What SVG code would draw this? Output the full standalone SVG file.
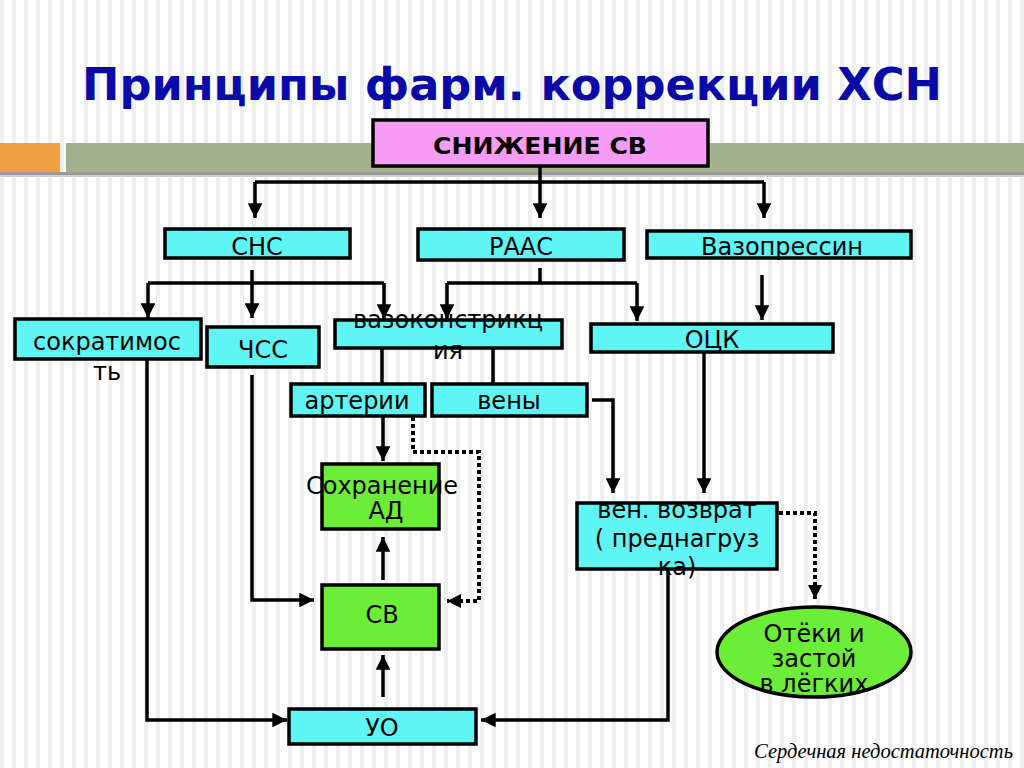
<svg xmlns="http://www.w3.org/2000/svg" width="1024" height="768" viewBox="0 0 1024 768">
<defs>
<pattern id="stripes" x="0" y="0" width="12" height="768" patternUnits="userSpaceOnUse">
<rect width="12" height="768" fill="#ffffff"/>
<rect x="0" width="4" height="768" fill="#efefef"/>
</pattern>
<marker id="arr" viewBox="0 0 10 10" refX="10" refY="5" markerWidth="4.2" markerHeight="4.2" orient="auto">
<path d="M0,0 L10,5 L0,10 z" fill="#000"/>
</marker>
<marker id="arrd" viewBox="0 0 10 10" refX="10" refY="5" markerWidth="3.5" markerHeight="3.5" orient="auto">
<path d="M0,0 L10,5 L0,10 z" fill="#000"/>
</marker>
</defs>
<style>
.box{stroke:#000;stroke-width:3.5}
.cy{fill:#5ff5f5}
.gr{fill:#6cee38}
.t{font-family:"DejaVu Sans",Verdana,sans-serif;font-size:24px;fill:#000;text-anchor:middle}
.c{fill:none;stroke:#000;stroke-width:3.5}
.a{marker-end:url(#arr)}
.d{fill:none;stroke:#000;stroke-width:4;stroke-dasharray:4 3;marker-end:url(#arrd)}
</style>
<rect width="1024" height="768" fill="url(#stripes)"/>
<rect x="0" y="143" width="60" height="29" fill="#f0a040"/>
<rect x="66" y="143" width="958" height="29" fill="#a2b28f"/>
<rect x="0" y="172" width="1024" height="3" fill="#9a9a9a"/>
<rect x="0" y="175" width="1024" height="2" fill="#d0d0d0"/>
<text x="512" y="100" font-family="'DejaVu Sans',sans-serif" font-weight="bold" font-size="44" fill="#0a0aa8" text-anchor="middle" textLength="860" lengthAdjust="spacingAndGlyphs">Принципы фарм. коррекции ХСН</text>

<g id="connectors">
<path class="c a" d="M540,167 V218"/>
<path class="c" d="M255,182 H764"/>
<path class="c a" d="M255,182 V218"/>
<path class="c a" d="M764,182 V218"/>
<path class="c" d="M252,270 V283 M148,283 H384"/>
<path class="c a" d="M148,283 V318"/>
<path class="c a" d="M252,283 V318"/>
<path class="c a" d="M384,283 V319"/>
<path class="c" d="M540,268 V283 M447,283 H637"/>
<path class="c a" d="M447,283 V319"/>
<path class="c a" d="M637,283 V321"/>
<path class="c a" d="M762,275 V320"/>
<path class="c" d="M382,348 V383 M493,348 V383"/>
<path class="c a" d="M383,417 V461"/>
<path class="d" d="M413,417 V452 H479 V601 H447"/>
<path class="c a" d="M383,580 V537"/>
<path class="c a" d="M383,697 V655"/>
<path class="c a" d="M252,375 V600 H314"/>
<path class="c a" d="M147,357 V720 H287"/>
<path class="c a" d="M592,400 H613 V493"/>
<path class="c a" d="M704,353 V493"/>
<path class="d" d="M779,513 H815 V599"/>
<path class="c a" d="M668,570 V720 H481"/>
</g>

<g id="n-snizh">
<rect x="373" y="120" width="335" height="46" fill="#f79bf4" class="box"/>
<text x="540" y="154" font-family="'DejaVu Sans Condensed','DejaVu Sans',sans-serif" font-weight="bold" font-size="23" text-anchor="middle" textLength="214" lengthAdjust="spacingAndGlyphs">СНИЖЕНИЕ СВ</text>
</g>
<g id="n-sns"><rect x="165" y="229" width="185" height="29" class="box cy"/><text class="t" x="257" y="255">СНС</text></g>
<g id="n-raas"><rect x="418" y="229" width="206" height="31" class="box cy"/><text class="t" x="521" y="255">РААС</text></g>
<g id="n-vazopr"><rect x="647" y="231" width="264" height="27" class="box cy"/><text class="t" x="782" y="255">Вазопрессин</text></g>
<g id="n-sokr"><rect x="15" y="319" width="186" height="40" class="box cy"/><text class="t" x="107" y="350">cократимос</text><text class="t" x="107" y="380">ть</text></g>
<g id="n-chss"><rect x="207" y="327" width="112" height="40" class="box cy"/><text class="t" x="263" y="358">ЧСС</text></g>
<g id="n-vazok"><rect x="335" y="320" width="227" height="28" class="box cy"/><text class="t" x="448" y="328">вазоконстрикц</text><text class="t" x="448" y="359">ия</text></g>
<g id="n-ock"><rect x="591" y="324" width="242" height="28" class="box cy"/><text class="t" x="712" y="348">ОЦК</text></g>
<g id="n-arter"><rect x="291" y="384" width="134" height="32" class="box cy"/><text class="t" x="357" y="409">артерии</text></g>
<g id="n-veny"><rect x="432" y="384" width="155" height="32" class="box cy"/><text class="t" x="509" y="409">вены</text></g>
<g id="n-sohr"><rect x="322" y="464" width="117" height="65" class="box gr"/><text class="t" x="382" y="494" font-size="21">Сохранение</text><text class="t" x="386" y="519" font-size="22">АД</text></g>
<g id="n-sv"><rect x="322" y="585" width="117" height="64" class="box gr"/><text class="t" x="382" y="623">СВ</text></g>
<g id="n-uo"><rect x="289" y="709" width="187" height="35" class="box cy"/><text class="t" x="382" y="736">УО</text></g>
<g id="n-venvoz"><rect x="577" y="503" width="200" height="66" class="box cy"/><text class="t" x="677" y="518">вен. возврат</text><text class="t" x="677" y="547">( преднагруз</text><text class="t" x="677" y="575">ка)</text></g>
<g id="n-oteki"><ellipse cx="814" cy="652" rx="97" ry="45" class="box gr"/><text class="t" x="814" y="642" font-size="21">Отёки и</text><text class="t" x="814" y="667" font-size="21">застой</text><text class="t" x="814" y="692" font-size="21">в лёгких</text></g>
<text x="1013" y="758" font-family="'Liberation Serif',serif" font-style="italic" font-size="20.5" text-anchor="end">Сердечная недостаточность</text>
</svg>
